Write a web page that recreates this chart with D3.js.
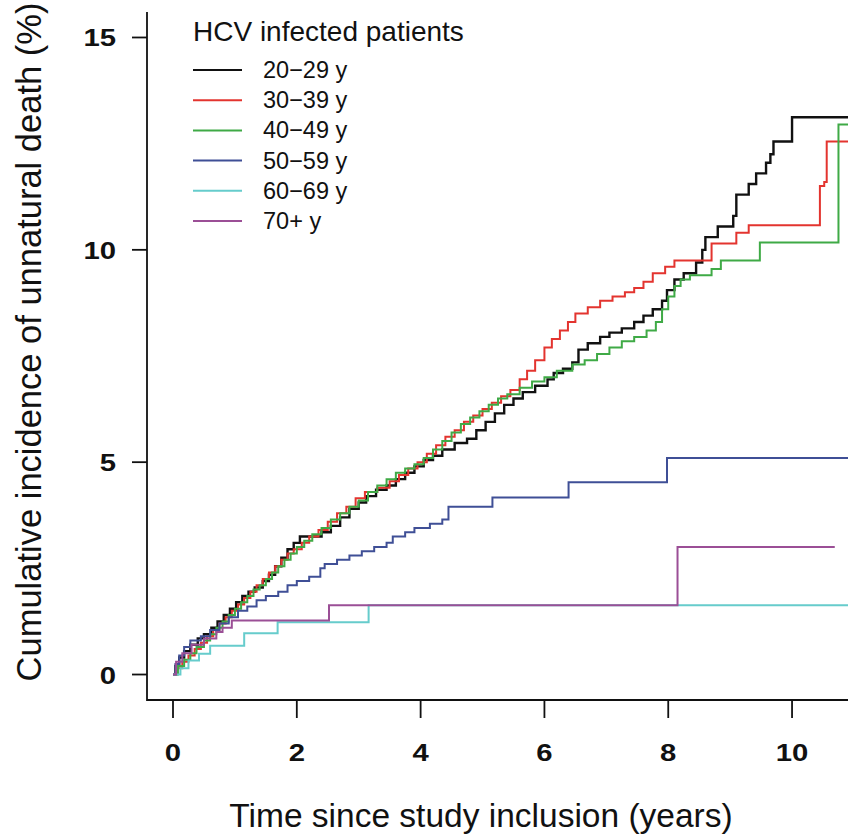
<!DOCTYPE html>
<html>
<head>
<meta charset="utf-8">
<script src="https://cdn.jsdelivr.net/npm/d3@7"></script>
<style>
  body { margin: 0; background: #fff; }
  text { font-family: "Liberation Sans", Arial, sans-serif; fill: #111; }
</style>
</head>
<body>
<script>
// age groups and colors
var groups = ["20\u221229 y", "30\u221239 y", "40\u221249 y", "50\u221259 y", "60\u221269 y", "70+ y"];
var colors = ["#111111", "#e3342f", "#3faa46", "#3f4f96", "#66cccc", "#9b4f96"];

// cumulative incidence steps [years, %]
var age20 = [[0,0],[0.04,0.2],[0.1,0.4],[0.18,0.55],[0.28,0.7],[0.4,0.85],[0.5,0.95],[0.62,1.1],[0.72,1.25],[0.82,1.4],[0.92,1.55],[1.02,1.7],[1.12,1.85],[1.22,1.95],[1.32,2.05],[1.45,2.2],[1.55,2.35],[1.65,2.55],[1.75,2.75],[1.85,2.95],[1.95,3.1],[2.05,3.25],[2.4,3.35],[2.55,3.5],[2.7,3.7],[2.85,3.9],[3.0,4.05],[3.12,4.2],[3.28,4.35],[3.45,4.45],[3.6,4.6],[3.75,4.75],[3.9,4.9],[4.05,5.05],[4.2,5.15],[4.35,5.3],[4.55,5.45],[4.75,5.55],[4.9,5.75],[5.05,5.95],[5.2,6.15],[5.35,6.35],[5.5,6.5],[5.65,6.65],[5.85,6.8],[6.05,6.95],[6.15,7.1],[6.3,7.2],[6.45,7.35],[6.55,7.65],[6.7,7.8],[6.9,7.95],[7.05,8.05],[7.25,8.15],[7.45,8.3],[7.6,8.45],[7.75,8.6],[7.9,8.8],[7.98,9.05],[8.1,9.3],[8.25,9.45],[8.45,9.7],[8.55,10.0],[8.6,10.3],[8.8,10.55],[9.05,10.8],[9.1,11.3],[9.3,11.55],[9.42,11.8],[9.58,12.05],[9.65,12.25],[9.7,12.55],[10.0,13.12],[11,13.12]];
var age30 = [[0,0],[0.06,0.15],[0.15,0.3],[0.25,0.45],[0.35,0.6],[0.45,0.75],[0.55,0.9],[0.65,1.05],[0.75,1.2],[0.85,1.35],[0.95,1.5],[1.05,1.65],[1.15,1.8],[1.25,1.95],[1.35,2.1],[1.45,2.25],[1.55,2.4],[1.65,2.55],[1.75,2.7],[1.85,2.85],[1.95,2.95],[2.08,3.1],[2.2,3.25],[2.35,3.4],[2.5,3.6],[2.65,3.8],[2.8,3.95],[2.95,4.15],[3.1,4.3],[3.3,4.4],[3.5,4.55],[3.65,4.7],[3.8,4.85],[3.95,5.0],[4.1,5.2],[4.25,5.4],[4.4,5.6],[4.55,5.75],[4.7,5.95],[4.85,6.1],[5.0,6.25],[5.15,6.4],[5.3,6.55],[5.45,6.7],[5.6,6.95],[5.72,7.15],[5.85,7.4],[6.0,7.7],[6.12,7.9],[6.25,8.1],[6.38,8.3],[6.5,8.5],[6.7,8.65],[6.9,8.8],[7.1,8.9],[7.3,9.0],[7.45,9.1],[7.6,9.25],[7.75,9.45],[7.95,9.6],[8.1,9.75],[8.7,10.15],[9.1,10.4],[9.3,10.58],[10.45,11.5],[10.52,11.6],[10.56,12.55],[11,12.55]];
var age40 = [[0,0],[0.08,0.2],[0.18,0.35],[0.28,0.5],[0.38,0.65],[0.5,0.8],[0.6,0.95],[0.7,1.1],[0.8,1.25],[0.9,1.4],[1.0,1.55],[1.1,1.7],[1.2,1.85],[1.3,2.0],[1.4,2.1],[1.5,2.25],[1.6,2.4],[1.7,2.55],[1.8,2.7],[1.9,2.85],[2.0,3.0],[2.12,3.15],[2.25,3.3],[2.4,3.45],[2.55,3.65],[2.7,3.8],[2.85,3.95],[3.0,4.1],[3.15,4.3],[3.3,4.45],[3.45,4.6],[3.6,4.75],[3.75,4.85],[3.9,4.95],[4.05,5.1],[4.2,5.3],[4.35,5.5],[4.5,5.7],[4.65,5.9],[4.8,6.05],[4.95,6.2],[5.1,6.35],[5.25,6.5],[5.4,6.6],[5.6,6.75],[5.8,6.9],[6.0,7.0],[6.2,7.15],[6.45,7.3],[6.65,7.4],[6.85,7.55],[7.05,7.7],[7.25,7.85],[7.45,7.95],[7.65,8.1],[7.8,8.3],[7.9,8.6],[8.0,8.9],[8.1,9.15],[8.2,9.3],[8.35,9.4],[8.7,9.55],[8.85,9.75],[9.48,10.17],[10.75,12.95],[11,12.95]];
var age50 = [[0,0],[0.04,0.25],[0.1,0.45],[0.18,0.65],[0.28,0.8],[0.45,0.9],[0.6,1.05],[0.75,1.2],[0.9,1.35],[1.05,1.5],[1.2,1.6],[1.35,1.75],[1.5,1.85],[1.7,1.95],[1.85,2.1],[2.0,2.2],[2.2,2.3],[2.38,2.5],[2.45,2.6],[2.65,2.7],[2.85,2.8],[3.05,2.9],[3.25,3.0],[3.45,3.1],[3.55,3.25],[3.75,3.35],[3.9,3.45],[4.15,3.55],[4.35,3.65],[4.45,3.95],[5.16,4.17],[6.39,4.53],[7.98,5.1],[11,5.1]];
var age60 = [[0,0],[0.12,0.15],[0.25,0.33],[0.42,0.49],[0.6,0.68],[1.15,0.97],[1.69,1.23],[3.16,1.63],[11,1.63]];
var age70 = [[0,0],[0.05,0.3],[0.15,0.5],[0.3,0.7],[0.5,0.85],[0.7,1.0],[0.8,1.1],[0.95,1.27],[2.52,1.63],[8.15,3.0],[10.69,3.0]];
var series = [age20, age30, age40, age50, age60, age70];

// tick values
var xTicks = [0, 2, 4, 6, 8, 10];
var yTicks = [0, 5, 10, 15];

// define svg
var width = 848, height = 838;
var svg = d3.select("body")
  .append("svg")
  .attr("width", width)
  .attr("height", height);

// define scales (R style 4% padding)
var x = d3.scaleLinear().domain([-0.42, 10.92]).range([147, 849]);
var y = d3.scaleLinear().domain([-0.6, 15.6]).range([700, 12]);

// tick digits are wider in the original
var tickStretch = 1.22;

// define line
var line = d3.line()
  .x(function(d) { return x(d[0]); })
  .y(function(d) { return y(d[1]); })
  .curve(d3.curveStepAfter);

// draw curves
svg.append("g")
  .selectAll("path")
  .data(series)
  .enter().append("path")
    .attr("d", line)
    .attr("fill", "none")
    .attr("stroke", function(d, i) { return colors[i]; })
    .attr("stroke-width", function(d, i) { return i == 0 ? 2.4 : 2; });

// L shaped box
svg.append("path")
  .attr("d", "M" + x.range()[0] + "," + y.range()[1] + "V" + y.range()[0] + "H" + width)
  .attr("fill", "none")
  .attr("stroke", "#111")
  .attr("stroke-width", 1.8);

// y axis ticks + labels
var yAxis = svg.append("g");
yAxis.selectAll("line")
  .data(yTicks)
  .enter().append("line")
    .attr("x1", 132).attr("x2", x.range()[0])
    .attr("y1", function(d) { return y(d); })
    .attr("y2", function(d) { return y(d); })
    .attr("stroke", "#111").attr("stroke-width", 1.8);
yAxis.selectAll("text")
  .data(yTicks)
  .enter().append("text")
    .attr("transform", function(d) { return "translate(116," + (y(d) + 9) + ") scale(" + tickStretch + ",1)"; })
    .attr("text-anchor", "end")
    .attr("font-size", 24)
    .attr("font-weight", "bold")
    .text(function(d) { return d; });

// x axis ticks + labels
var xAxis = svg.append("g");
xAxis.selectAll("line")
  .data(xTicks)
  .enter().append("line")
    .attr("x1", function(d) { return x(d); })
    .attr("x2", function(d) { return x(d); })
    .attr("y1", y.range()[0]).attr("y2", 718)
    .attr("stroke", "#111").attr("stroke-width", 1.8);
xAxis.selectAll("text")
  .data(xTicks)
  .enter().append("text")
    .attr("transform", function(d) { return "translate(" + x(d) + ",761) scale(" + tickStretch + ",1)"; })
    .attr("text-anchor", "middle")
    .attr("font-size", 24)
    .attr("font-weight", "bold")
    .text(function(d) { return d; });

// axis titles
svg.append("text")
  .attr("x", 481)
  .attr("y", 827)
  .attr("text-anchor", "middle")
  .attr("font-size", 33.5)
  .text("Time since study inclusion (years)");

svg.append("text")
  .attr("transform", "translate(41,342) rotate(-90)")
  .attr("text-anchor", "middle")
  .attr("font-size", 34.5)
  .text("Cumulative incidence of unnatural death (%)");

// legend
var legend = svg.append("g");
legend.append("text")
  .attr("x", 193)
  .attr("y", 41)
  .attr("font-size", 28)
  .text("HCV infected patients");

var rows = legend.selectAll("g.row")
  .data(groups)
  .enter().append("g")
    .attr("class", "row")
    .attr("transform", function(d, i) { return "translate(0," + (70 + i * 30.2) + ")"; });
rows.append("line")
  .attr("x1", 193).attr("x2", 242)
  .attr("stroke", function(d, i) { return colors[i]; })
  .attr("stroke-width", 2);
rows.append("text")
  .attr("x", 263)
  .attr("y", 8)
  .attr("font-size", 23.5)
  .text(function(d) { return d; });
</script>
</body>
</html>
